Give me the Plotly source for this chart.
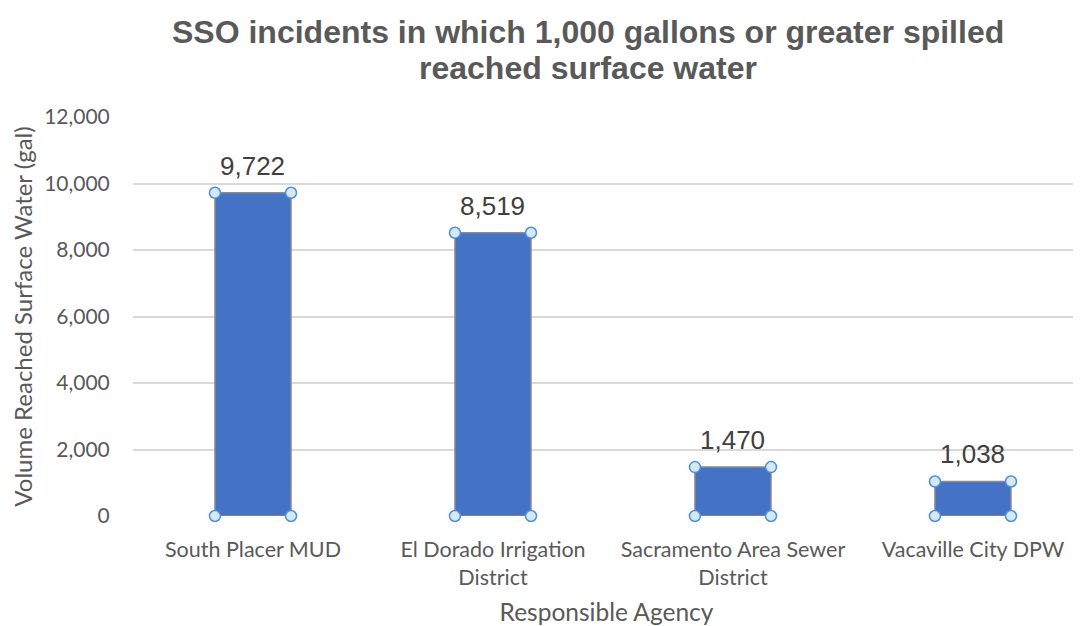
import plotly.graph_objects as go

categories = ["South Placer MUD", "El Dorado Irrigation<br>District", "Sacramento Area Sewer<br>District", "Vacaville City DPW"]
values = [9722, 8519, 1470, 1038]
y_ticks = [0, 2000, 4000, 6000, 8000, 10000, 12000]
y_tick_labels = ["0", "2,000", "4,000", "6,000", "8,000", "10,000", "12,000"]
title_lines = ["SSO incidents in which 1,000 gallons or greater spilled", "reached surface water"]

bar_w = 0.317
xs = list(range(len(categories)))

fig = go.Figure()
fig.add_trace(go.Bar(
    x=xs, y=values, width=bar_w,
    marker=dict(color="#4472C4", line=dict(color="#8c8c8c", width=1.5)),
    hoverinfo="skip",
))
hx, hy = [], []
for x, v in zip(xs, values):
    for dx in (-bar_w / 2, bar_w / 2):
        for yy in (0, v):
            hx.append(x + dx)
            hy.append(yy)
fig.add_trace(go.Scatter(
    x=hx, y=hy, mode="markers", cliponaxis=False, hoverinfo="skip",
    marker=dict(size=11, color="#d6e8f8", line=dict(color="#4a90d9", width=1.5)),
))

annotations = []
for x, v in zip(xs, values):
    annotations.append(dict(
        x=x, y=v, xref="x", yref="y", text=f"{v:,}", showarrow=False,
        yanchor="bottom", yshift=10,
        font=dict(family="Liberation Sans, Arial", size=26, color="#404040"),
    ))
for line, yy in zip(title_lines, [1.213, 1.123]):
    annotations.append(dict(
        x=0.48, y=yy, xref="paper", yref="paper", text=line, showarrow=False,
        xanchor="center", yanchor="middle",
        font=dict(family="Liberation Sans, Arial", size=32, color="#595959", weight="bold"),
    ))

fig.update_layout(
    width=1073, height=618,
    margin=dict(l=125, r=1, t=109, b=110),
    paper_bgcolor="white", plot_bgcolor="white",
    showlegend=False,
    annotations=annotations,
    font=dict(family="Lato, Calibri", color="#595959"),
)
fig.update_xaxes(
    range=[-0.5, 3.446], tickvals=xs, ticktext=categories,
    tickfont=dict(size=21.5, color="#595959"), showgrid=False, zeroline=False,
    showline=False, ticks="outside", ticklen=14, tickcolor="rgba(0,0,0,0)",
    title=dict(text="Responsible Agency", font=dict(size=24.5, color="#595959"), standoff=17),
)
fig.update_yaxes(
    range=[0, 12000], tickvals=y_ticks, ticktext=y_tick_labels,
    tickfont=dict(size=21, color="#595959"), showgrid=True, gridcolor="#d9d9d9", gridwidth=1.5,
    zeroline=False, showline=False, ticks="outside", ticklen=18, tickcolor="rgba(0,0,0,0)",
    title=dict(text="Volume Reached Surface Water (gal)", font=dict(size=24, color="#595959"), standoff=11),
)
fig.write_html("out.html")
